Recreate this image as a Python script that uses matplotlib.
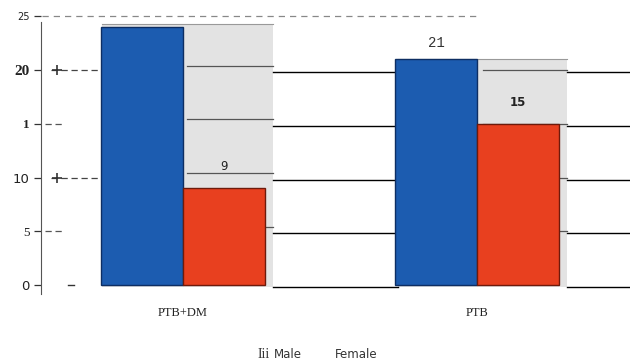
import numpy as np
import matplotlib.pyplot as plt
from matplotlib.patches import Rectangle

groups = ['PTB+DM', 'PTB']
male = [24, 21]
female = [9, 15]
value_labels_male = [None, '21']
value_labels_female = ['9', '15']
yticks = [0, 5, 10, 15, 20, 25]
ytick_labels = ['0', '5', '10', '1', '20', '25']

male_color = '#1c5cb0'
female_color = '#e8401f'
panel_color = '#e3e3e3'

fig = plt.figure(figsize=(6.3, 3.63), dpi=100)
ax = fig.add_axes([0.065, 0.2, 0.935, 0.764])

x = np.arange(len(groups))
w = 0.279

# grey backdrop behind each pair of bars
panels = [(-0.276, 0.306, 24.3, 0.4), (0.731, 1.306, 21.0, 0.0)]
for x0, x1, top, shift in panels:
    ax.add_patch(Rectangle((x0, -0.2), x1 - x0, top + 0.2, facecolor=panel_color,
                           edgecolor='none', zorder=0))
    ax.plot([x0, x1], [top, top], color='#999999', lw=0.8, zorder=1)
    for yv in [5, 10, 15, 20]:
        if yv < top:
            ax.plot([x0 + (x1 - x0) * 0.5, x1], [yv + shift, yv + shift], color='#555555',
                    lw=0.9, zorder=1)

# solid gridlines in the open spaces
for yv in [0, 5, 10, 15, 20]:
    ax.plot([0.306, 0.731], [yv - 0.2, yv - 0.2], color='black', lw=1.0, zorder=1)
    ax.plot([1.306, 1.55], [yv - 0.2, yv - 0.2], color='black', lw=1.0, zorder=1)

# dashed guides from the axis
for yv in [10, 20]:
    ax.plot([-0.45, -0.28], [yv, yv], color='#444444', lw=0.9, ls=(0, (5, 3)), zorder=1)
    ax.plot([-0.43], [yv], marker='+', color='#333333', ms=7, mew=1.2)
for yv in [5, 15]:
    ax.plot([-0.47, -0.40], [yv, yv], color='#555555', lw=0.9, ls=(0, (5, 3)), zorder=1)
ax.plot([-0.48, 1.0], [25, 25], color='#888888', lw=0.9, ls=(0, (5, 4)), zorder=1)
ax.plot([-0.39, -0.37], [0, 0], color='#333333', lw=1.0)

ax.bar(x - w / 2, male, w, color=male_color, edgecolor='#0d2e63', lw=1.0, zorder=2)
ax.bar(x + w / 2, female, w, color=female_color, edgecolor='#6e1a0b', lw=1.0, zorder=2)

for xi, lab, v in zip(x, value_labels_male, male):
    if lab:
        ax.text(xi - w / 2, v + 0.9, lab, ha='center', va='bottom', fontsize=10,
                family='Liberation Mono', color='#333333')
for xi, lab, v, wt in zip(x, value_labels_female, female, ['normal', 'semibold']):
    ax.text(xi + w / 2, v + 1.4, lab, ha='center', va='bottom', fontsize=8.5,
            color='#222222', fontweight=wt)

ax.set_xlim(-0.483, 1.52)
ax.set_ylim(-0.5, 25.3)
ax.set_yticks(yticks)
ax.set_yticklabels(ytick_labels)
ax.tick_params(axis='y', length=5, width=0.9, color='#333333', pad=3, labelsize=9.5)
ax.tick_params(axis='x', length=0)
ax.set_xticks([])
for lbl, fam in zip(ax.get_yticklabels(), ['DejaVu Sans', 'Liberation Serif', 'DejaVu Sans',
                                            'Liberation Serif', 'Liberation Serif', 'DejaVu Sans']):
    lbl.set_family(fam)
    lbl.set_color('#222222')
ax.get_yticklabels()[3].set_fontweight('bold')
ax.get_yticklabels()[4].set_fontsize(11)
ax.get_yticklabels()[4].set_fontweight('bold')
ax.get_yticklabels()[5].set_fontsize(7)

for s in ['top', 'right', 'bottom']:
    ax.spines[s].set_visible(False)
ax.spines['left'].set_color('#555555')
ax.spines['left'].set_bounds(-0.8, 24.5)

for xi, g in zip(x, groups):
    fig.text((41 + (xi - -0.483) * 589 / 2.003) / 630, 1 - 313 / 363, g, ha='center',
             va='center', family='Liberation Serif', fontsize=9, color='#222222')

fig.text(258 / 630, 1 - 355 / 363, 'Iii', ha='left', va='center', family='Liberation Serif',
         fontsize=10, color='#333333')
fig.text(274 / 630, 1 - 355 / 363, 'Male', ha='left', va='center', fontsize=8.5, color='#333333')
fig.text(335 / 630, 1 - 355 / 363, 'Female', ha='left', va='center', fontsize=8.5, color='#333333')

fig.savefig('out.png', dpi=100)
